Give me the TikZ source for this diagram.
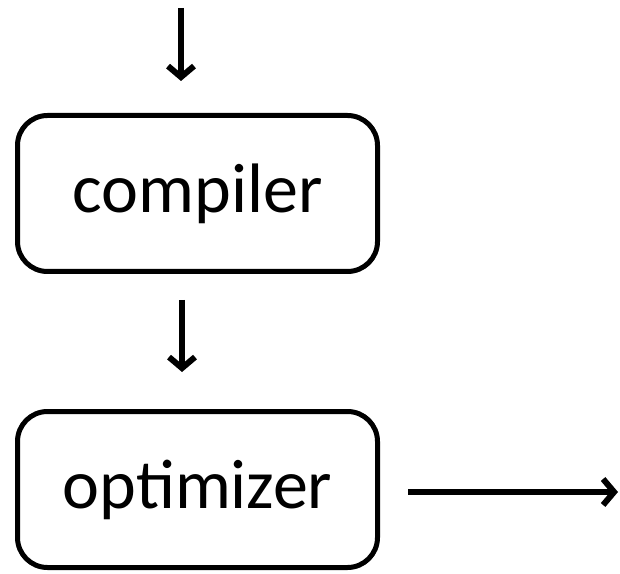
\documentclass[tikz,border=0pt]{standalone}
\usepackage{fontspec}
\setmainfont{Carlito}
\usetikzlibrary{arrows.meta}
\begin{document}
\begin{tikzpicture}[x=1pt,y=1pt,
  stage/.style={draw, line width=5pt, rounded corners=30pt, minimum width=360pt, minimum height=156pt, inner sep=0pt, font=\fontsize{70}{80}\selectfont},
  flow/.style={draw, line width=6pt, -{Straight Barb[length=11pt,width=26pt]}}]
\useasboundingbox (0,0) rectangle (620,573);
\node[stage] (comp) at (197.5,379.5) {compiler};
\node[stage] (opt) at (197.5,83.5) {optimizer};
\coordinate (in) at (181,565);
\coordinate (inend) at (181,492);
\coordinate (mid1) at (182,273);
\coordinate (mid2) at (182,201);
\coordinate (outs) at (408,81);
\coordinate (oute) at (618,81);
\draw[flow] (in) -- (inend);
\draw[flow] (mid1) -- (mid2);
\draw[flow] (outs) -- (oute);
\end{tikzpicture}
\end{document}
